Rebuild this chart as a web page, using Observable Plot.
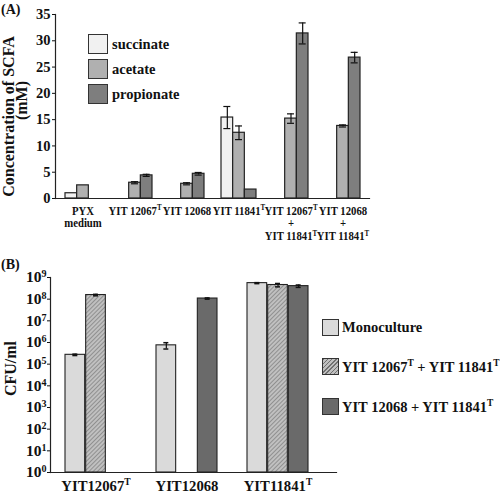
<!DOCTYPE html>
<html><head><meta charset="utf-8">
<script src="https://cdn.jsdelivr.net/npm/d3@7"></script>
<script src="https://cdn.jsdelivr.net/npm/@observablehq/plot@0.6"></script>
<style>
body{margin:0;background:#fff;}
#wrap{position:relative;width:500px;height:493px;overflow:hidden;font-family:"Liberation Serif","Times New Roman",serif;font-weight:bold;color:#111;}
.pan{position:absolute;left:0;}
.tag{position:absolute;font-size:14px;font-weight:bold;line-height:16px;}
.leg{position:absolute;display:flex;align-items:center;font-size:14.5px;white-space:nowrap;}
.sw{box-sizing:border-box;border:1.5px solid #333;flex:none;}
.leg sup{font-size:0.65em;}
</style></head><body><div id="wrap"></div>
<script>
// ---------- Panel A data ----------
const groupsA = ["PYX\nmedium", "YIT 12067^T", "YIT 12068", "YIT 11841^T", "YIT 12067^T\n+\nYIT 11841^T", "YIT 12068\n+\nYIT 11841^T"];
const acidsA = ["succinate", "acetate", "propionate"];
const succinate     = [1.0, null, null, 15.4, null, null];
const succinateErr  = [0,   null, null, 2.1,  null, null];
const acetate       = [2.5, 3.0, 2.8, 12.5, 15.2, 13.8];
const acetateErr    = [0,   0.2, 0.2, 1.3,  0.9,  0.2];
const propionate    = [null, 4.4, 4.7, 1.7, 31.4, 26.8];
const propionateErr = [null, 0.2, 0.25, 0,  2.0,  1.0];
const yTicksA = [0, 5, 10, 15, 20, 25, 30, 35];
const fillsA = ["#f1f1f1", "#b0b0b0", "#7e7e7e"];

// ---------- Panel B data ----------
const strainsB = ["YIT12067^T", "YIT12068", "YIT11841^T"];
const culturesB = ["Monoculture", "YIT 12067^T + YIT 11841^T", "YIT 12068 + YIT 11841^T"];
const monoculture    = [2.7e5, 7.4e5, 5.5e8];
const monocultureErr = [0.2e5, 2.4e5, 0.3e8];
const co12067        = [1.55e8, null, 4.5e8];
const co12067Err     = [0.12e8, null, 0.8e8];
const co12068        = [null, 1.07e8, 4.0e8];
const co12068Err     = [null, 0.07e8, 0.5e8];
const expsB = [0, 1, 2, 3, 4, 5, 6, 7, 8, 9];
const fillsB = ["#dadada", "url(#hatchB)", "#6a6a6a"];

function supify(root) {
  const walker = document.createTreeWalker(root, NodeFilter.SHOW_TEXT);
  const nodes = [];
  while (walker.nextNode()) if (walker.currentNode.data.includes("^")) nodes.push(walker.currentNode);
  for (const n of nodes) {
    const parts = n.data.split(/\^(\w+)/);
    const frag = document.createDocumentFragment();
    parts.forEach((p, k) => {
      if (!p) return;
      if (k % 2 === 0) frag.appendChild(document.createTextNode(p));
      else {
        const t = document.createElementNS("http://www.w3.org/2000/svg", "tspan");
        t.setAttribute("baseline-shift", "super");
        t.setAttribute("font-size", "0.65em");
        t.textContent = p;
        frag.appendChild(t);
      }
    });
    n.parentNode.replaceChild(frag, n);
  }
}
function squeeze(root, label, sx) {
  root.querySelectorAll(`g[aria-label="${label}"] text`).forEach(t => {
    const tr = t.getAttribute("transform") || "";
    t.setAttribute("transform", tr + ` scale(${sx},1)`);
  });
}
const supHTML = s => s.replace(/\^(\w+)/g, "<sup>$1</sup>");

const wrap = document.getElementById("wrap");

// ---------- Panel A ----------
const seriesA = [succinate, acetate, propionate];
const errsA = [succinateErr, acetateErr, propionateErr];
const dataA = [];
acidsA.forEach((s, j) => groupsA.forEach((g, i) => {
  const v = seriesA[j][i];
  if (v != null) dataA.push({group: g, series: s, j, value: v, err: errsA[j][i] || 0});
}));
const A = {W: 500, H: 250, mL: 55, mR: 131, mT: 14, mB: 52, pI: 0.331, pO: 0.166};
const stepA = (A.W - A.mL - A.mR) / (groupsA.length - A.pI + 2 * A.pO);
const bwA = stepA * (1 - A.pI), wA = bwA / 3, capA = 7;
const marksA = [];
acidsA.forEach((s, j) => {
  const d = dataA.filter(r => r.j === j);
  marksA.push(Plot.barY(d, {x: "group", y: "value", fill: fillsA[j], stroke: "#222", strokeWidth: 1.2,
    insetLeft: j * wA, insetRight: (2 - j) * wA}));
});
acidsA.forEach((s, j) => {
  const e = dataA.filter(r => r.j === j && r.err > 0);
  const dx = (j - 1) * wA;
  marksA.push(Plot.ruleX(e, {x: "group", y1: r => r.value - r.err, y2: r => r.value + r.err, dx, stroke: "#111", strokeWidth: 1.2}));
  marksA.push(Plot.tickY(e, {x: "group", y: r => r.value + r.err, dx, stroke: "#111", strokeWidth: 1.2, inset: (bwA - capA) / 2}));
  marksA.push(Plot.tickY(e, {x: "group", y: r => r.value - r.err, dx, stroke: "#111", strokeWidth: 1.2, inset: (bwA - capA) / 2}));
});
const plotA = Plot.plot({
  width: A.W, height: A.H, marginLeft: A.mL, marginRight: A.mR, marginTop: A.mT, marginBottom: A.mB,
  style: {fontFamily: "'Liberation Serif','Times New Roman',serif", fontWeight: "bold", color: "#111", background: "transparent"},
  x: {type: "band", domain: groupsA, paddingInner: A.pI, paddingOuter: A.pO, label: null},
  y: {domain: [0, 35], label: null},
  marks: [
    ...marksA,
    Plot.axisX({tickSize: 0, tickPadding: 7, fontSize: 12.5, lineHeight: 1.02, label: null}),
    Plot.axisY({ticks: yTicksA, tickSize: 3, tickPadding: 2, fontSize: 14.5, label: null}),
    Plot.frame({anchor: "left", stroke: "#222", strokeWidth: 1.2}),
    Plot.frame({anchor: "bottom", stroke: "#222", strokeWidth: 1.2}),
    Plot.text(["Concentration of SCFA"], {frameAnchor: "left", textAnchor: "middle", lineAnchor: "middle", rotate: -90, dx: -47, dy: 10, fontSize: 16, fontWeight: "bold"}),
    Plot.text(["(mM)"], {frameAnchor: "left", textAnchor: "middle", lineAnchor: "middle", rotate: -90, dx: -34, dy: -6, fontSize: 16, fontWeight: "bold"})
  ]
});
plotA.classList.add("pan");
plotA.style.top = "0px";
supify(plotA);
squeeze(plotA, "x-axis tick label", 0.86);
wrap.appendChild(plotA);

// ---------- Panel B ----------
const seriesB = [monoculture, co12067, co12068];
const errsB = [monocultureErr, co12067Err, co12068Err];
const dataB = [];
culturesB.forEach((c, j) => strainsB.forEach((g, i) => {
  const v = seriesB[j][i];
  if (v != null) dataB.push({strain: g, culture: c, j, value: v, err: errsB[j][i] || 0});
}));
const B = {W: 500, H: 243, mL: 50, mR: 164, mT: 27, mB: 21, pI: 0.326, pO: 0.2175, align: 0.35};
const stepB = (B.W - B.mL - B.mR) / (strainsB.length - B.pI + 2 * B.pO);
const bwB = stepB * (1 - B.pI), wB = bwB / 3, capB = 6;
const marksB = [];
culturesB.forEach((c, j) => {
  const d = dataB.filter(r => r.j === j);
  marksB.push(Plot.barY(d, {x: "strain", y1: 1, y2: "value", fill: fillsB[j], stroke: "#222", strokeWidth: 1.1,
    insetLeft: j * wB, insetRight: (2 - j) * wB}));
});
culturesB.forEach((c, j) => {
  const e = dataB.filter(r => r.j === j && r.err > 0);
  const dx = (j - 1) * wB;
  marksB.push(Plot.ruleX(e, {x: "strain", y1: r => r.value - r.err, y2: r => r.value + r.err, dx, stroke: "#111", strokeWidth: 1.2}));
  marksB.push(Plot.tickY(e, {x: "strain", y: r => r.value + r.err, dx, stroke: "#111", strokeWidth: 1.5, inset: (bwB - capB) / 2}));
  marksB.push(Plot.tickY(e, {x: "strain", y: r => r.value - r.err, dx, stroke: "#111", strokeWidth: 1.5, inset: (bwB - capB) / 2}));
});
const plotB = Plot.plot({
  width: B.W, height: B.H, marginLeft: B.mL, marginRight: B.mR, marginTop: B.mT, marginBottom: B.mB,
  style: {fontFamily: "'Liberation Serif','Times New Roman',serif", fontWeight: "bold", color: "#111", background: "transparent"},
  x: {type: "band", domain: strainsB, paddingInner: B.pI, paddingOuter: B.pO, align: B.align, label: null},
  y: {type: "log", domain: [1, 1e9], label: null},
  marks: [
    ...marksB,
    Plot.axisX({tickSize: 0, tickPadding: 7, fontSize: 15.5, label: null}),
    Plot.axisY({ticks: expsB.map(e => 10 ** e), tickFormat: d => "10^" + Math.round(Math.log10(d)), tickSize: 3, tickPadding: 1, fontSize: 15.5, label: null}),
    Plot.frame({anchor: "left", stroke: "#222", strokeWidth: 1.2}),
    Plot.frame({anchor: "bottom", stroke: "#222", strokeWidth: 1.2}),
    Plot.text(["CFU/ml"], {frameAnchor: "left", textAnchor: "middle", lineAnchor: "middle", rotate: -90, dx: -40, dy: -6.5, fontSize: 16, fontWeight: "bold"})
  ]
});
const NS = "http://www.w3.org/2000/svg";
const defs = document.createElementNS(NS, "defs");
defs.innerHTML = '<pattern id="hatchB" width="3" height="3" patternUnits="userSpaceOnUse" patternTransform="rotate(45)"><rect width="3" height="3" fill="#c0c0c0"/><line x1="0" y1="0" x2="0" y2="3" stroke="#707070" stroke-width="1.2"/></pattern>';
plotB.insertBefore(defs, plotB.firstChild);
plotB.classList.add("pan");
plotB.style.top = "250px";
supify(plotB);
squeeze(plotB, "x-axis tick label", 0.95);
wrap.appendChild(plotB);

// ---------- Tags ----------
const tA = document.createElement("div"); tA.className = "tag"; tA.style.left = "1px"; tA.style.top = "2px"; tA.textContent = "(A)"; wrap.appendChild(tA);
const tB = document.createElement("div"); tB.className = "tag"; tB.style.left = "1px"; tB.style.top = "257px"; tB.textContent = "(B)"; wrap.appendChild(tB);

// ---------- Legends ----------
const legTopsA = [34, 59, 84];
acidsA.forEach((s, j) => {
  const el = document.createElement("div");
  el.className = "leg";
  el.style.left = "88px"; el.style.top = legTopsA[j] + "px"; el.style.height = "20px";
  el.innerHTML = `<div class="sw" style="width:20px;height:20px;background:${fillsA[j]}"></div><span style="margin-left:4px">${s}</span>`;
  wrap.appendChild(el);
});
const legTopsB = [319, 358, 398];
const swB = ["#dadada", "repeating-linear-gradient(135deg,#707070 0 1px,#c0c0c0 1px 3px)", "#6a6a6a"];
culturesB.forEach((c, j) => {
  const el = document.createElement("div");
  el.className = "leg";
  el.style.left = "322px"; el.style.top = legTopsB[j] + "px"; el.style.height = "17px";
  el.innerHTML = `<div class="sw" style="width:17px;height:17px;background:${swB[j]}"></div><span style="margin-left:3px">${supHTML(c)}</span>`;
  wrap.appendChild(el);
});
</script></body></html>
